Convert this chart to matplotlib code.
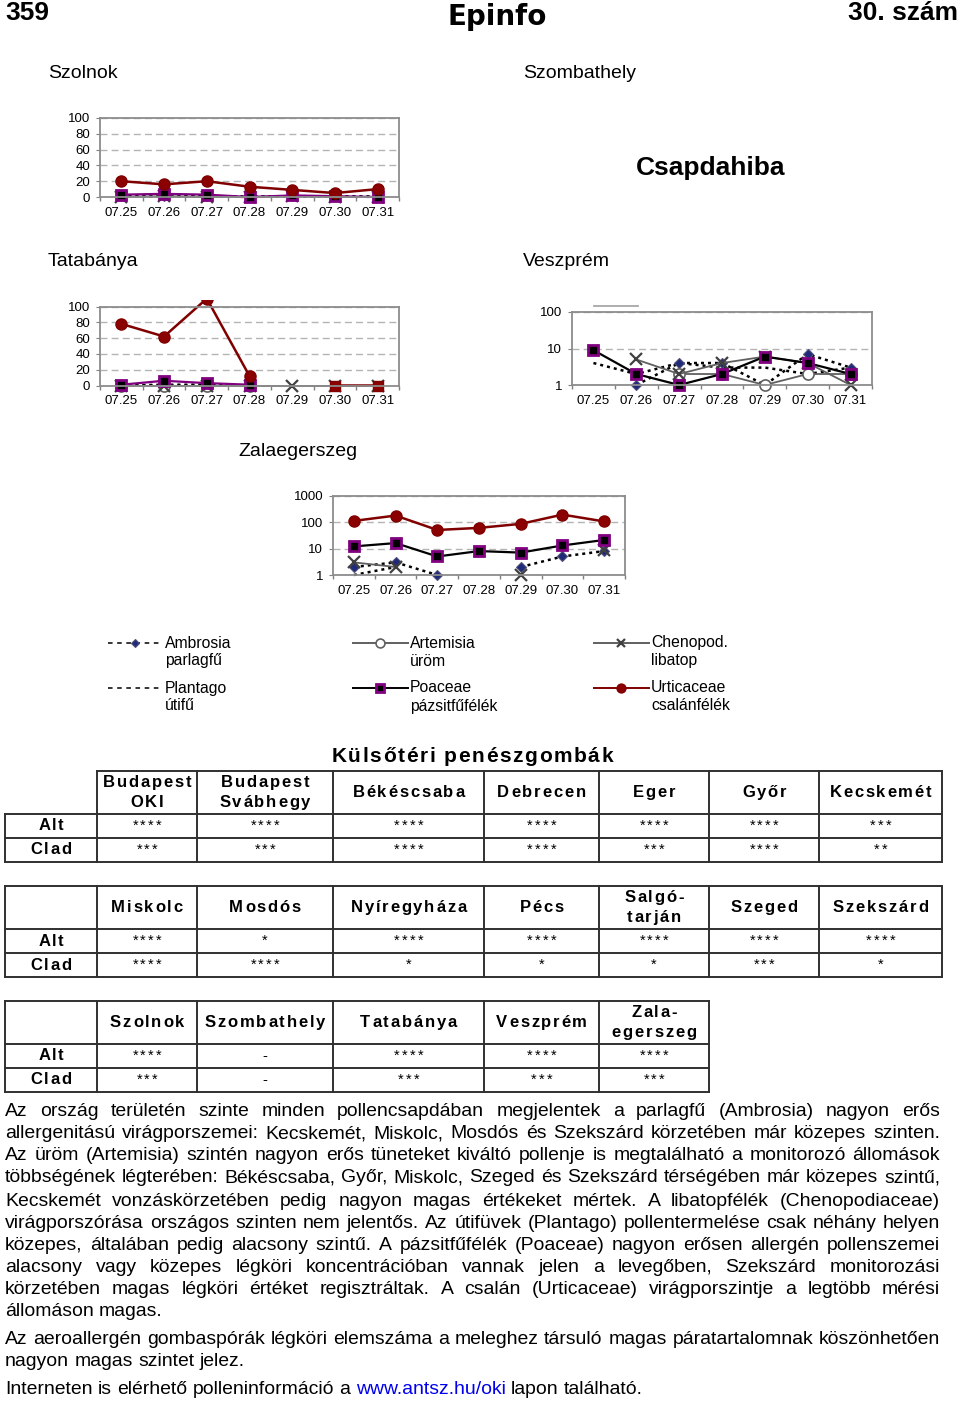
import matplotlib
matplotlib.use('Agg')
import matplotlib.pyplot as plt
import numpy as np
from matplotlib import font_manager
from matplotlib.font_manager import FontProperties
from matplotlib.lines import Line2D
from matplotlib.patches import Rectangle
from matplotlib.ticker import FixedLocator, NullLocator

plt.rcParams['font.family'] = ['Liberation Sans', 'DejaVu Sans']

W, H = 960, 1403
nan = np.nan

# ---- adatok ----
dates = ['07.25', '07.26', '07.27', '07.28', '07.29', '07.30', '07.31']

szolnok_ambrosia = [1, 1, 1, 0, 1, 1, 0]
szolnok_chenopod = [0, 1, 0, 0, 1, 0, 0]
szolnok_plantago = [1, 1, 1, 1, 1, 1, 1]
szolnok_poaceae = [3, 4, 3, 0, 2, 1, 0]
szolnok_urticaceae = [20, 16, 20, 13, 9, 5, 10]

tata_ambrosia = [0, 1, 1, 0, nan, nan, nan]
tata_artemisia = [0, 0, 0, 0, nan, nan, nan]
tata_chenopod = [0, 0, 0, 0, 0, 0, 0]
tata_plantago = [1, 1, 1, 1, nan, nan, nan]
tata_poaceae = [1, 6, 3, 1, nan, nan, nan]
tata_urticaceae = [78, 62, 110, 12, nan, 0, 0]

veszprem_ambrosia = [nan, 1, 4, 4, 1, 7, 3]
veszprem_artemisia = [nan, nan, 2, 2, 1, 2, 2]
veszprem_chenopod = [nan, 5, 2, 4, 6, 4, 1]
veszprem_plantago = [4, 2, 4, 3, 3, 2, 3]
veszprem_poaceae = [9, 2, 1, 2, 6, 4, 2]

zala_ambrosia = [2, 3, 1, nan, 2, 5, 8]
zala_chenopod = [3, 2, nan, nan, 1, nan, 9]
zala_plantago = [1, 2, nan, nan, nan, nan, nan]
zala_poaceae = [12, 16, 5, 8, 7, 13, 21]
zala_urticaceae = [110, 175, 50, 60, 85, 190, 105]

linear_ticks = [0, 20, 40, 60, 80, 100]
log_ticks_3 = [1, 10, 100]
log_ticks_4 = [1, 10, 100, 1000]

labels = {
    'amb': ('Ambrosia', 'parlagfű'),
    'art': ('Artemisia', 'üröm'),
    'che': ('Chenopod.', 'libatop'),
    'pla': ('Plantago', 'útifű'),
    'poa': ('Poaceae', 'pázsitfűfélék'),
    'urt': ('Urticaceae', 'csalánfélék'),
}

table_title = 'Külsőtéri penészgombák'
headers1 = ['Budapest\nOKI', 'Budapest\nSvábhegy', 'Békéscsaba', 'Debrecen', 'Eger', 'Győr', 'Kecskemét']
alt1 = ['****', '****', '****', '****', '****', '****', '***']
clad1 = ['***', '***', '****', '****', '***', '****', '**']
headers2 = ['Miskolc', 'Mosdós', 'Nyíregyháza', 'Pécs', 'Salgó-\ntarján', 'Szeged', 'Szekszárd']
alt2 = ['****', '*', '****', '****', '****', '****', '****']
clad2 = ['****', '****', '*', '*', '*', '***', '*']
headers3 = ['Szolnok', 'Szombathely', 'Tatabánya', 'Veszprém', 'Zala-\negerszeg']
alt3 = ['****', '-', '****', '****', '****']
clad3 = ['***', '-', '***', '***', '***']
row_names = ['Alt', 'Clad']

body_lines = [
    ('Az ország területén szinte minden pollencsapdában megjelentek a parlagfű (Ambrosia) nagyon erős', True),
    ('allergenitású virágporszemei: Kecskemét, Miskolc, Mosdós és Szekszárd körzetében már közepes szinten.', True),
    ('Az üröm (Artemisia) szintén nagyon erős tüneteket kiváltó pollenje is megtalálható a monitorozó állomások', True),
    ('többségének légterében: Békéscsaba, Győr, Miskolc, Szeged és Szekszárd térségében már közepes szintű,', True),
    ('Kecskemét vonzáskörzetében pedig nagyon magas értékeket mértek. A libatopfélék (Chenopodiaceae)', True),
    ('virágporszórása országos szinten nem jelentős. Az útifüvek (Plantago) pollentermelése csak néhány helyen', True),
    ('közepes, általában pedig alacsony szintű. A pázsitfűfélék (Poaceae) nagyon erősen allergén pollenszemei', True),
    ('alacsony vagy közepes légköri koncentrációban vannak jelen a levegőben, Szekszárd monitorozási', True),
    ('körzetében magas légköri értéket regisztráltak. A csalán (Urticaceae) virágporszintje a legtöbb mérési', True),
    ('állomáson magas.', False),
    ('Az aeroallergén gombaspórák légköri elemszáma a meleghez társuló magas páratartalomnak köszönhetően', True),
    ('nagyon magas szintet jelez.', False),
    ('Interneten is elérhető polleninformáció a www.antsz.hu/oki lapon található.', False),
]
link = 'www.antsz.hu/oki'

# ---- stílusok ----
STYLES = {
    'pla': dict(color='black', ls=(0, (1.2, 1.6)), lw=1.8),
    'amb': dict(color='black', ls=(0, (1.2, 1.6)), lw=1.8, marker='D', ms=5.5,
                mfc='#1f2a78', mec='#50507a', mew=0.8),
    'art': dict(color='#606060', lw=1.3, marker='o', ms=8, mfc='white', mec='#606060', mew=1.2),
    'che': dict(color='#606060', lw=1.3, marker='x', ms=8, mec='#404040', mew=1.6),
    'poa': dict(color='black', lw=1.6, marker='s', ms=7.5, mfc='black', mec='#800080', mew=2),
    'urt': dict(color='#800000', lw=1.8, marker='o', ms=8, mfc='#8b0000', mec='#800000'),
}
ORDER = ['pla', 'amb', 'art', 'che', 'poa', 'urt']

try:
    font_manager.findfont('Liberation Sans Narrow', fallback_to_default=False)
    HEAD = ['Liberation Sans Narrow', 'Liberation Sans']
    HSP = 3.0
    HFS = 13
except ValueError:
    HEAD = ['Liberation Sans']
    HSP = 1.8
    HFS = 12

fig = plt.figure(figsize=(W / 100, H / 100), dpi=100)
bg = fig.add_axes([0, 0, 1, 1])
bg.set_xlim(0, W)
bg.set_ylim(H, 0)
bg.axis('off')
renderer = fig.canvas.get_renderer()


def tw(s, fp):
    return renderer.get_text_width_height_descent(s, fp, ismath=False)[0]


def spaced_text(x, y, s, size, sp, weight='bold', family=HEAD, ha='center', color='black'):
    fp = FontProperties(family=family, weight=weight, size=size)
    space = tw('a a', fp) - tw('aa', fp)
    widths = [space if ch == ' ' else tw(ch, fp) for ch in s]
    total = sum(widths) + sp * (len(s) - 1)
    cx = x - total / 2 if ha == 'center' else x
    for ch, w in zip(s, widths):
        if ch != ' ':
            bg.text(cx, y, ch, fontproperties=fp, ha='left', va='center', color=color)
        cx += w + sp


def chart(box, data, yticks, log=False, overrides=None):
    overrides = overrides or {}
    left, top, width, height = box
    ax = fig.add_axes([left / W, 1 - (top + height) / H, width / W, height / H])
    x = np.arange(len(dates))
    clip = Rectangle((-0.05, -0.25), 1.1, 1.33, transform=ax.transAxes)
    for key in ORDER:
        if key not in data:
            continue
        st = dict(STYLES[key])
        st.update(overrides.get(key, {}))
        ln, = ax.plot(x, data[key], **st)
        ln.set_clip_path(clip)
    ax.set_xlim(-0.5, len(dates) - 0.5)
    if log:
        ax.set_yscale('log')
    ax.set_ylim(yticks[0], yticks[-1])
    ax.set_yticks(yticks)
    ax.set_yticklabels([str(v) for v in yticks])
    ax.yaxis.set_minor_locator(NullLocator())
    ax.set_xticks(x)
    ax.set_xticklabels(dates)
    ax.xaxis.set_minor_locator(FixedLocator(np.arange(-0.5, len(dates), 1.0)))
    ax.tick_params(axis='x', which='major', length=0, pad=7, labelsize=9.5)
    ax.tick_params(axis='x', which='minor', length=3, color='#808080', width=1)
    ax.tick_params(axis='y', which='major', length=3, color='#808080', pad=4, labelsize=9.5)
    ax.grid(axis='y', color='#b4b4b4', ls=(0, (5, 3)), lw=1)
    ax.set_axisbelow(True)
    for s in ax.spines.values():
        s.set_color('#8c8c8c')
        s.set_linewidth(1.3)
    return ax, clip


# ---- fejléc ----
bg.text(5, 13, '359', fontsize=19, weight='bold', family=HEAD, ha='left', va='center')
bg.text(497, 17, 'Epinfo', fontsize=20, weight='bold', family='DejaVu Sans', ha='center', va='center')
bg.text(958, 13, '30. szám', fontsize=19, weight='bold', family=HEAD, ha='right', va='center')

# ---- diagramok ----
bg.text(48, 74, 'Szolnok', fontsize=14, ha='left', va='center')
bg.text(523, 74, 'Szombathely', fontsize=14, ha='left', va='center')
bg.text(711, 168, 'Csapdahiba', fontsize=19, weight='bold', ha='center', va='center')
bg.text(48, 262, 'Tatabánya', fontsize=14, ha='left', va='center')
bg.text(523, 262, 'Veszprém', fontsize=14, ha='left', va='center')
bg.text(238, 451, 'Zalaegerszeg', fontsize=14, ha='left', va='center')

purple_line = {'poa': dict(color='#800080')}
chart((100, 118, 299, 79),
      {'pla': szolnok_plantago, 'amb': szolnok_ambrosia, 'che': szolnok_chenopod,
       'poa': szolnok_poaceae, 'urt': szolnok_urticaceae},
      linear_ticks, overrides=purple_line)

ov = dict(purple_line)
ov['urt'] = dict(markevery=[0, 1, 2, 3])
ax_t, clip_t = chart((100, 306.5, 299, 79),
                     {'pla': tata_plantago, 'amb': tata_ambrosia, 'art': tata_artemisia,
                      'che': tata_chenopod, 'poa': tata_poaceae, 'urt': tata_urticaceae},
                     linear_ticks, overrides=ov)
sq, = ax_t.plot(np.arange(len(dates)), tata_urticaceae, ls='none', marker='s', ms=7.5,
                mfc='#8b0000', mec='#800000', markevery=[5, 6])
sq.set_clip_path(clip_t)

chart((572, 312, 300, 73),
      {'pla': veszprem_plantago, 'amb': veszprem_ambrosia, 'art': veszprem_artemisia,
       'che': veszprem_chenopod, 'poa': veszprem_poaceae},
      log_ticks_3, log=True)
bg.plot([594, 638], [306, 306], color='#a8a8a8', lw=1.3)

chart((333, 495.5, 292, 79.5),
      {'pla': zala_plantago, 'amb': zala_ambrosia, 'che': zala_chenopod,
       'poa': zala_poaceae, 'urt': zala_urticaceae},
      log_ticks_4, log=True)

# ---- jelmagyarázat ----
legend_rows = [['amb', 'art', 'che'], ['pla', 'poa', 'urt']]
legend_x = [108, 353, 594]
legend_y = [643, 688]
for row, ly in zip(legend_rows, legend_y):
    for key, lx in zip(row, legend_x):
        st = dict(STYLES[key])
        if key in ('amb', 'pla'):
            st.update(lw=1.1, ls=(0, (3, 3)))
        else:
            st.update(lw=1.4)
        if 'marker' in st:
            st['markevery'] = [1]
            st['ms'] = st['ms'] * 0.8
        bg.add_line(Line2D([lx, lx + 27, lx + 55], [ly, ly, ly], **st))
        bg.text(lx + 57, ly, labels[key][0], fontsize=11.3, ha='left', va='center')
        bg.text(lx + 57, ly + 18, labels[key][1], fontsize=11.3, ha='left', va='center')

# ---- táblázatok ----
spaced_text(472, 757, table_title, 15, 1.6)

cols_full = [5, 97, 197, 333, 484, 599, 709, 819, 942]


def table(top, cols, headers, alt, clad, open_corner):
    y0, y1 = top, top + 43
    y2, y3 = y1 + 24, y1 + 48
    kw = dict(color='#303030', lw=1.4)
    bg.plot([cols[1] if open_corner else cols[0], cols[-1]], [y0, y0], **kw)
    for yy in (y1, y2, y3):
        bg.plot([cols[0], cols[-1]], [yy, yy], **kw)
    for i, c in enumerate(cols):
        bg.plot([c, c], [y1 if (i == 0 and open_corner) else y0, y3], **kw)
    for i, h in enumerate(headers):
        cx = (cols[i + 1] + cols[i + 2]) / 2
        parts = h.split('\n')
        mid = (y0 + y1) / 2
        if len(parts) == 2:
            spaced_text(cx, mid - 10, parts[0], HFS, HSP)
            spaced_text(cx, mid + 10, parts[1], HFS, HSP)
        else:
            spaced_text(cx, mid, parts[0], HFS, HSP)
    for name, yy in zip(row_names, ((y1 + y2) / 2, (y2 + y3) / 2)):
        spaced_text((cols[0] + cols[1]) / 2, yy, name, HFS, HSP)
    for vals, yy in ((alt, (y1 + y2) / 2), (clad, (y2 + y3) / 2)):
        for i, v in enumerate(vals):
            cx = (cols[i + 1] + cols[i + 2]) / 2
            spaced_text(cx, yy, v, 10.5, 2.2, weight='normal', family=['Liberation Sans'])


table(771, cols_full, headers1, alt1, clad1, True)
table(886, cols_full, headers2, alt2, clad2, False)
table(1001, cols_full[:7], headers3, alt3, clad3, False)

# ---- szöveg ----
LEFT, RIGHT = 5, 940
fs = 14.2
fp = FontProperties(family='Liberation Sans', size=fs)
space = tw('a a', fp) - tw('aa', fp)
worst = max(sum(tw(w, fp) for w in s.split()) + space * (len(s.split()) - 1)
            for s, j in body_lines if j)
if worst > RIGHT - LEFT:
    fs = fs * (RIGHT - LEFT) / worst
fp = FontProperties(family='Liberation Sans', size=fs)
space = tw('a a', fp) - tw('aa', fp)

line_y = [1112, 1134, 1156, 1178, 1201, 1223, 1245, 1267, 1290, 1312, 1339, 1361, 1390]
for (s, just), yy in zip(body_lines, line_y):
    words = s.split()
    widths = [tw(w, fp) for w in words]
    gap = (RIGHT - LEFT - sum(widths)) / (len(words) - 1) if just else space
    xx = LEFT
    for w, wd in zip(words, widths):
        bg.text(xx, yy, w, fontproperties=fp, ha='left', va='center',
                color='#0000ee' if w == link else 'black')
        xx += wd + gap

fig.savefig('out.png', dpi=100)
